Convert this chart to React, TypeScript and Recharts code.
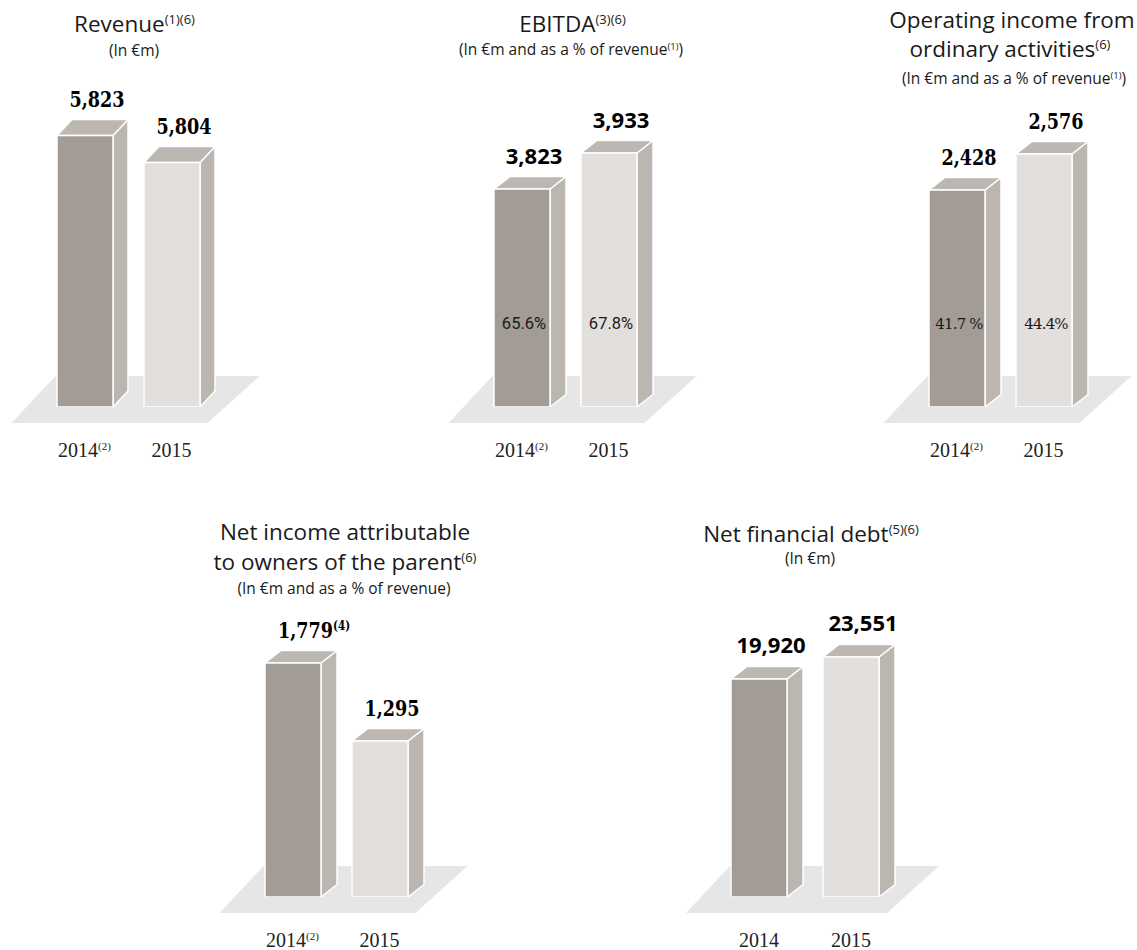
import React from "react";
import { BarChart, Bar, XAxis, YAxis, LabelList, ReferenceArea } from "recharts";

// ---------- data ----------
const years = ["2014", "2015"];
const yearNotesRestated = ["(2)", ""];
const yearNotesPlain = ["", ""];

const revenueValues = [5823, 5804];
const ebitdaValues = [3823, 3933];
const ebitdaMargins = ["65.6%", "67.8%"];
const operatingValues = [2428, 2576];
const operatingMargins = ["41.7 %", "44.4%"];
const netIncomeValues = [1779, 1295];
const netIncomeNotes = ["(4)", ""];
const netDebtValues = [19920, 23551];

// ---------- styles ----------
const FRONT = ["#a39b95", "#e2dfdc"];
const SIDE = "#bbb6af";
const TOP = "#bcb7b0";
const FLOOR = "#e6e6e6";
const TEXT = "#1a1a1a";
const SANS = "'Open Sans', 'Noto Sans', sans-serif";
const SLAB = "'DejaVu Serif', serif";
const XFONT = "'Liberation Serif', serif";
const BAR_SIZE = 56;

type Seg = { t: string; sup?: boolean };
type Line = { x: number; y: number; size: number; segs: Seg[] };

const titleLines: Line[] = [
  { x: 134.5, y: 32, size: 22.5, segs: [{ t: "Revenue" }, { t: "(1)(6)", sup: true }] },
  { x: 134, y: 56, size: 15.5, segs: [{ t: "(In €m)" }] },
  { x: 572.5, y: 32, size: 22.5, segs: [{ t: "EBITDA" }, { t: "(3)(6)", sup: true }] },
  { x: 571, y: 55, size: 15.5, segs: [{ t: "(In €m and as a % of revenue" }, { t: "(1)", sup: true }, { t: ")" }] },
  { x: 1012, y: 28, size: 22.5, segs: [{ t: "Operating income from" }] },
  { x: 1010, y: 57, size: 22.5, segs: [{ t: "ordinary activities" }, { t: "(6)", sup: true }] },
  { x: 1014, y: 84, size: 15.5, segs: [{ t: "(In €m and as a % of revenue" }, { t: "(1)", sup: true }, { t: ")" }] },
  { x: 345, y: 540, size: 22.5, segs: [{ t: "Net income attributable" }] },
  { x: 345, y: 570, size: 22.5, segs: [{ t: "to owners of the parent" }, { t: "(6)", sup: true }] },
  { x: 344, y: 594, size: 15.5, segs: [{ t: "(In €m and as a % of revenue)" }] },
  { x: 811, y: 542, size: 22.5, segs: [{ t: "Net financial debt" }, { t: "(5)(6)", sup: true }] },
  { x: 810, y: 564, size: 15.5, segs: [{ t: "(In €m)" }] },
];

type Spec = {
  values: number[];
  pcts?: string[];
  valueNotes?: string[];
  xNotes: string[];
  plotLeft: number;
  top: number;
  plotW: number;
  domain: [number, number];
  depth: [number, number];
  slab: boolean;
};

const specs: Spec[] = [
  { values: revenueValues, xNotes: yearNotesRestated, plotLeft: 40.5, top: 0, plotW: 174, domain: [5632, 5848], depth: [15, 16], slab: true },
  { values: ebitdaValues, pcts: ebitdaMargins, xNotes: yearNotesRestated, plotLeft: 477.5, top: 0, plotW: 174, domain: [3157, 4095], depth: [16, 12.5], slab: false },
  { values: operatingValues, pcts: operatingMargins, xNotes: yearNotesRestated, plotLeft: 912.5, top: 0, plotW: 174, domain: [1536, 2798], depth: [16, 12.5], slab: true },
  { values: netIncomeValues, valueNotes: netIncomeNotes, xNotes: yearNotesRestated, plotLeft: 248.5, top: 490, plotW: 174, domain: [327, 2232], depth: [16, 12.5], slab: true },
  { values: netDebtValues, xNotes: yearNotesPlain, plotLeft: 713, top: 490, plotW: 184, domain: [-16060, 34608], depth: [16, 12.5], slab: false },
];

function TitleLine({ line }: { line: Line }) {
  const supSize = line.size > 18 ? 13 : 9.5;
  const raise = line.size > 18 ? 8 : 5;
  let raised = false;
  const kids = line.segs.map((s, i) => {
    if (s.sup) {
      const el = (
        <tspan key={i} fontSize={supSize} dy={raised ? 0 : -raise}>
          {s.t}
        </tspan>
      );
      raised = true;
      return el;
    }
    const el = (
      <tspan key={i} dy={raised ? raise : 0}>
        {s.t}
      </tspan>
    );
    raised = false;
    return el;
  });
  return (
    <text x={line.x} y={line.y} textAnchor="middle" fontSize={line.size} fontFamily={SANS} fill={TEXT}>
      {kids}
    </text>
  );
}

function Chart3D({ spec }: { spec: Spec }) {
  const base = spec.domain[0];
  const data = years.map((year, i) => ({
    year,
    value: spec.values[i],
    span: [base, spec.values[i]],
    pct: spec.pcts ? spec.pcts[i] : undefined,
  }));
  const [dx, dy] = spec.depth;
  const ML = 40;
  const MR = 80;
  const width = ML + spec.plotW + MR;
  const height = 470;

  const renderFloor = (p: any) => {
    const n = years.length;
    const band = p.width / n;
    const gap = (band - BAR_SIZE) / 2;
    const b1 = p.x + gap;
    const lastRight = p.x + p.width - gap;
    const baseY = p.y + p.height;
    const pts = [
      [b1 - 45, baseY + 16],
      [lastRight + 8, baseY + 16],
      [lastRight + 60, baseY - 31],
      [b1 - 1, baseY - 31],
    ];
    return <polygon points={pts.map((q) => q.join(",")).join(" ")} fill={FLOOR} />;
  };

  const renderBar = (p: any) => {
    const { x, y, width: w, height: h, index } = p;
    const front = FRONT[index % FRONT.length];
    const side = `${x + w},${y} ${x + w + dx},${y - dy} ${x + w + dx},${y + h - dy} ${x + w},${y + h}`;
    const top = `${x},${y} ${x + dx},${y - dy} ${x + w + dx},${y - dy} ${x + w},${y}`;
    return (
      <g>
        <polygon points={side} fill={SIDE} stroke="#fff" strokeWidth={1.5} strokeLinejoin="round" />
        <polygon points={top} fill={TOP} stroke="#fff" strokeWidth={1.5} strokeLinejoin="round" />
        <rect x={x} y={y} width={w} height={h} fill={front} stroke="#fff" strokeWidth={1.5} />
      </g>
    );
  };

  const renderValue = (p: any) => {
    const { x, y, width: w, value, index } = p;
    const note = spec.valueNotes ? spec.valueNotes[index] : "";
    const cx = x + w / 2 + 12 + (note ? 9 : 0);
    const by = y - dy - 13;
    const txt = Number(value).toLocaleString("en-US");
    if (spec.slab) {
      return (
        <text
          transform={`translate(${cx},${by}) scale(0.8,1)`}
          textAnchor="middle"
          fontFamily={SLAB}
          fontWeight="bold"
          fontSize={22}
          fill="#000"
        >
          <tspan>{txt}</tspan>
          {note ? (
            <tspan fontSize={13} dy={-8}>
              {note}
            </tspan>
          ) : null}
        </text>
      );
    }
    return (
      <text x={cx} y={by} textAnchor="middle" fontFamily={SANS} fontWeight="bold" fontSize={22} fill="#000">
        <tspan>{txt}</tspan>
        {note ? (
          <tspan fontSize={13} dy={-8}>
            {note}
          </tspan>
        ) : null}
      </text>
    );
  };

  const renderPct = (p: any) => {
    const { x, y, width: w, height: h, value } = p;
    if (value === undefined || value === null) return null;
    return (
      <text
        x={x + w / 2 + 2}
        y={y + h - 78}
        textAnchor="middle"
        fontFamily={spec.slab ? SLAB : "Roboto, sans-serif"}
        fontSize={spec.slab ? 15 : 16.5}
        letterSpacing={spec.slab ? -0.8 : 0}
        fill={TEXT}
      >
        {value}
      </text>
    );
  };

  const renderTick = (p: any) => {
    const { x, y, payload } = p;
    const idx = payload && typeof payload.index === "number" ? payload.index : years.indexOf(payload.value);
    const note = spec.xNotes[idx] || "";
    return (
      <text x={x} y={y + 42} textAnchor="middle" fontFamily={XFONT} fontSize={20} fill="#222">
        <tspan>{payload.value}</tspan>
        {note ? (
          <tspan fontSize={11} dy={-7}>
            {note}
          </tspan>
        ) : null}
      </text>
    );
  };

  return (
    <div style={{ position: "absolute", left: spec.plotLeft - ML, top: spec.top }}>
      <BarChart
        width={width}
        height={height}
        data={data}
        margin={{ top: 100, right: MR, bottom: 3, left: ML }}
        barCategoryGap={0}
      >
        <XAxis dataKey="year" axisLine={false} tickLine={false} height={60} interval={0} tick={renderTick} />
        <YAxis hide type="number" domain={spec.domain} allowDataOverflow />
        <ReferenceArea
          x1={years[0]}
          x2={years[years.length - 1]}
          y1={spec.domain[0]}
          y2={spec.domain[1]}
          ifOverflow="visible"
          shape={renderFloor}
        />
        <Bar dataKey="span" barSize={BAR_SIZE} isAnimationActive={false} shape={renderBar}>
          <LabelList dataKey="value" content={renderValue} />
          {spec.pcts ? <LabelList dataKey="pct" content={renderPct} /> : null}
        </Bar>
      </BarChart>
    </div>
  );
}

export default function App() {
  return (
    <div
      style={{
        position: "absolute",
        left: 0,
        top: 0,
        width: 1137,
        height: 950,
        overflow: "hidden",
        background: "#fff",
      }}
    >
      {specs.map((s, i) => (
        <Chart3D key={i} spec={s} />
      ))}
      <svg width={1137} height={950} style={{ position: "absolute", left: 0, top: 0, pointerEvents: "none" }}>
        {titleLines.map((l, i) => (
          <TitleLine key={i} line={l} />
        ))}
      </svg>
    </div>
  );
}
